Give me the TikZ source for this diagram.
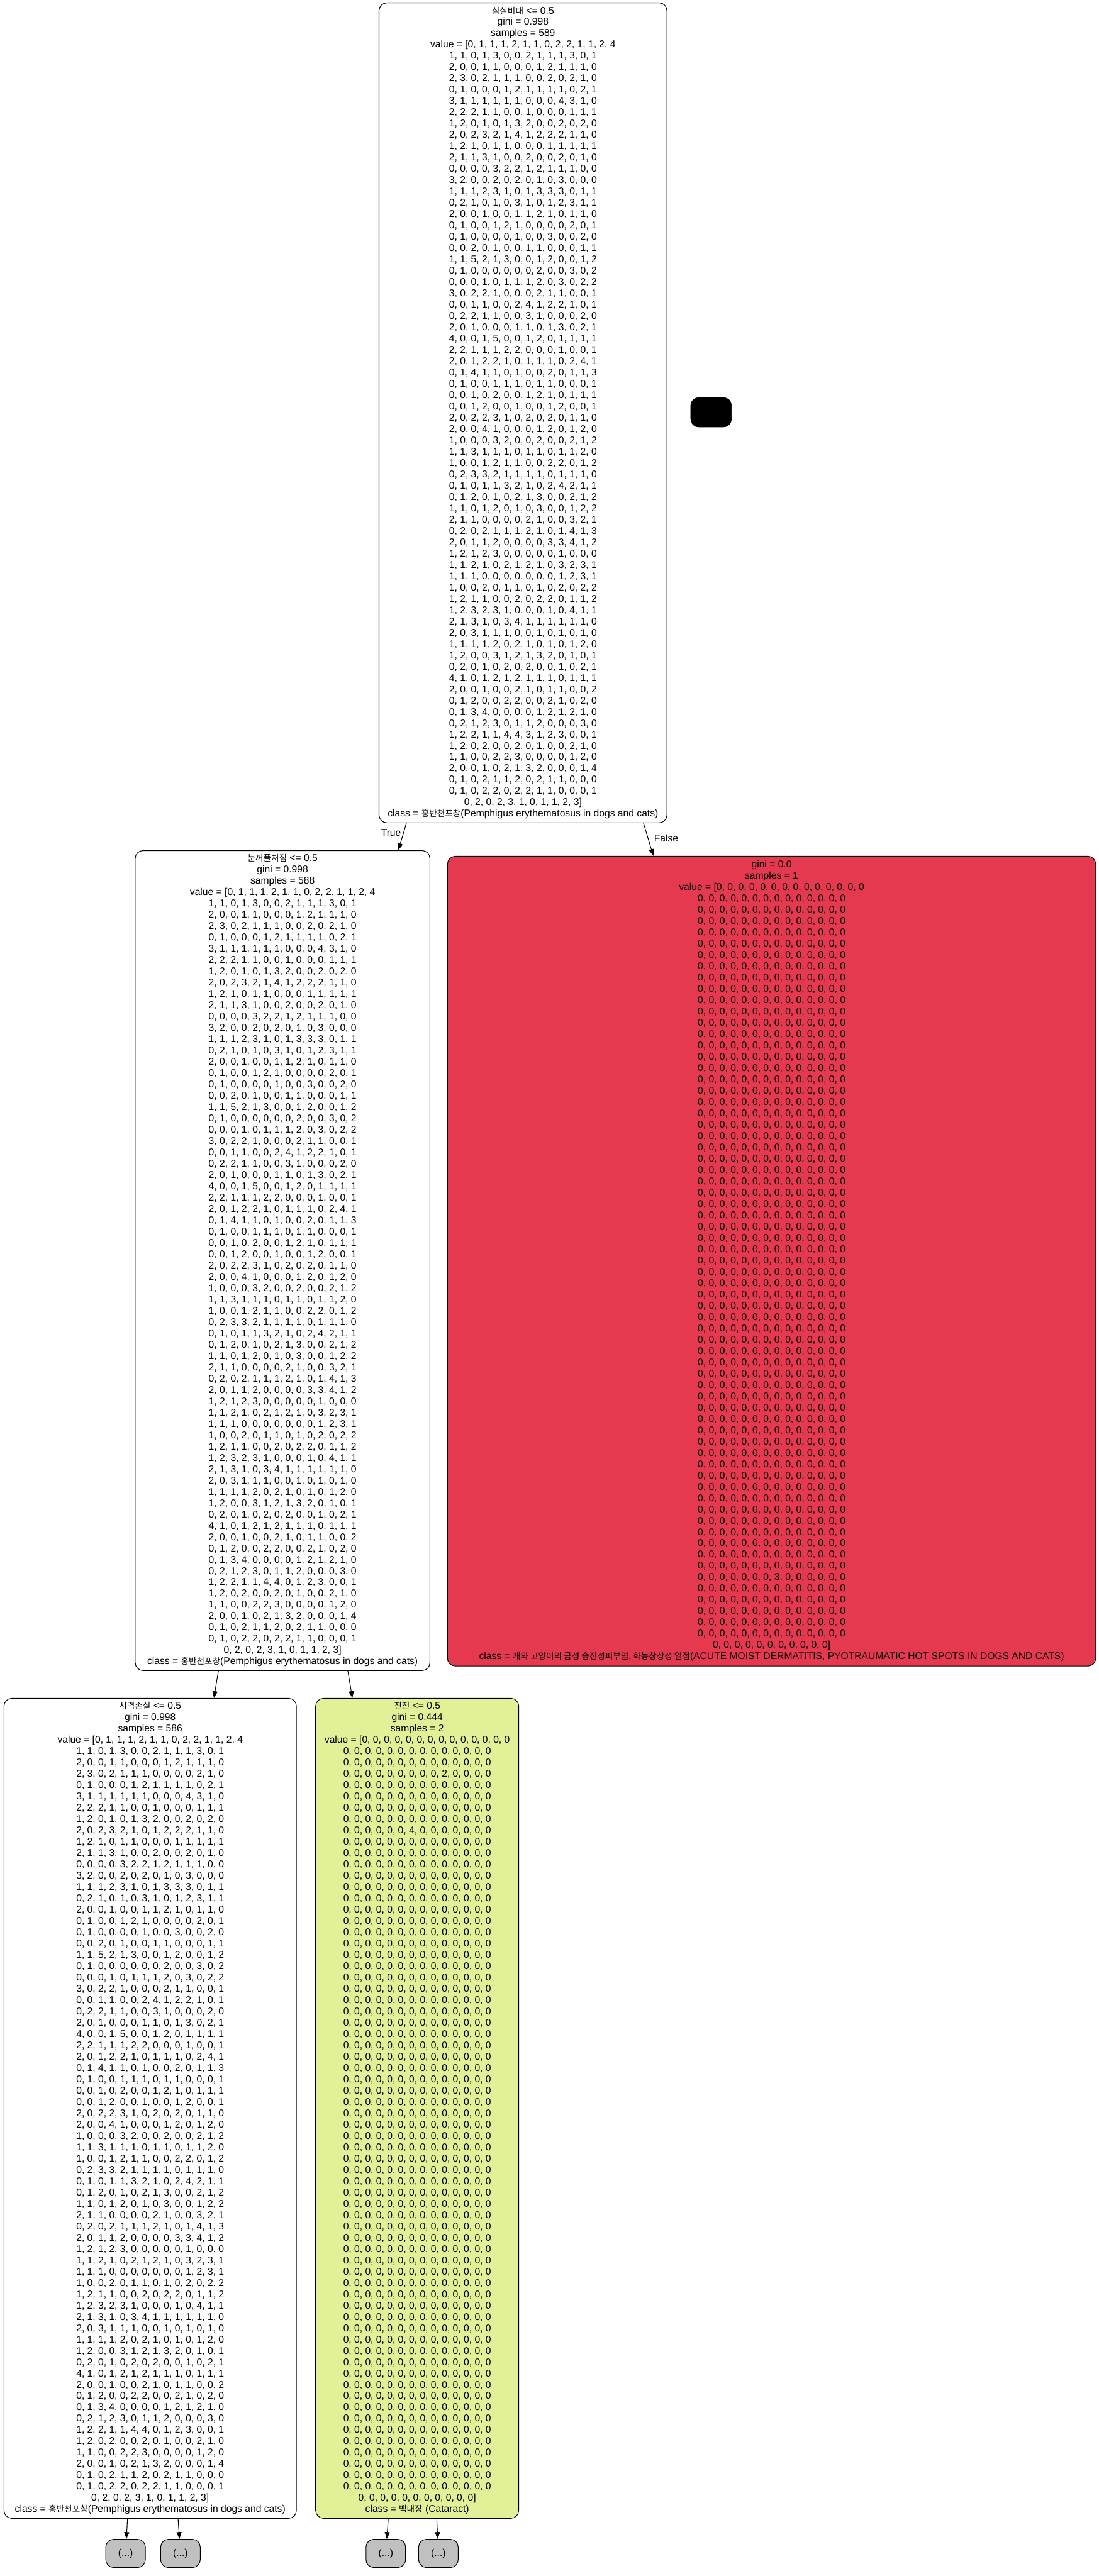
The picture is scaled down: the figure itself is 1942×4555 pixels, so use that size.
\documentclass[tikz,border=0pt]{standalone}
\usepackage{fontspec}
\setmainfont{Liberation Sans}
\newfontfamily\krfont[Scale=0.87]{Noto Sans CJK KR}
\usetikzlibrary{arrows.meta}

\definecolor{leafred}{HTML}{E5394F}
\definecolor{leafgreen}{HTML}{E2F098}
\definecolor{moregray}{HTML}{C0C0C0}

% value rows shared by the three big split nodes
\def\rowsA{1, 1, 0, 1, 3, 0, 0, 2, 1, 1, 1, 3, 0, 1\\
2, 0, 0, 1, 1, 0, 0, 0, 1, 2, 1, 1, 1, 0\\}
\def\rowsB{0, 1, 0, 0, 0, 1, 2, 1, 1, 1, 1, 0, 2, 1\\
3, 1, 1, 1, 1, 1, 1, 0, 0, 0, 4, 3, 1, 0\\
2, 2, 2, 1, 1, 0, 0, 1, 0, 0, 0, 1, 1, 1\\
1, 2, 0, 1, 0, 1, 3, 2, 0, 0, 2, 0, 2, 0\\}
\def\rowsC{1, 2, 1, 0, 1, 1, 0, 0, 0, 1, 1, 1, 1, 1\\
2, 1, 1, 3, 1, 0, 0, 2, 0, 0, 2, 0, 1, 0\\
0, 0, 0, 0, 3, 2, 2, 1, 2, 1, 1, 1, 0, 0\\
3, 2, 0, 0, 2, 0, 2, 0, 1, 0, 3, 0, 0, 0\\
1, 1, 1, 2, 3, 1, 0, 1, 3, 3, 3, 0, 1, 1\\
0, 2, 1, 0, 1, 0, 3, 1, 0, 1, 2, 3, 1, 1\\
2, 0, 0, 1, 0, 0, 1, 1, 2, 1, 0, 1, 1, 0\\
0, 1, 0, 0, 1, 2, 1, 0, 0, 0, 0, 2, 0, 1\\
0, 1, 0, 0, 0, 0, 1, 0, 0, 3, 0, 0, 2, 0\\
0, 0, 2, 0, 1, 0, 0, 1, 1, 0, 0, 0, 1, 1\\
1, 1, 5, 2, 1, 3, 0, 0, 1, 2, 0, 0, 1, 2\\
0, 1, 0, 0, 0, 0, 0, 0, 2, 0, 0, 3, 0, 2\\
0, 0, 0, 1, 0, 1, 1, 1, 2, 0, 3, 0, 2, 2\\
3, 0, 2, 2, 1, 0, 0, 0, 2, 1, 1, 0, 0, 1\\
0, 0, 1, 1, 0, 0, 2, 4, 1, 2, 2, 1, 0, 1\\
0, 2, 2, 1, 1, 0, 0, 3, 1, 0, 0, 0, 2, 0\\
2, 0, 1, 0, 0, 0, 1, 1, 0, 1, 3, 0, 2, 1\\
4, 0, 0, 1, 5, 0, 0, 1, 2, 0, 1, 1, 1, 1\\
2, 2, 1, 1, 1, 2, 2, 0, 0, 0, 1, 0, 0, 1\\
2, 0, 1, 2, 2, 1, 0, 1, 1, 1, 0, 2, 4, 1\\
0, 1, 4, 1, 1, 0, 1, 0, 0, 2, 0, 1, 1, 3\\
0, 1, 0, 0, 1, 1, 1, 0, 1, 1, 0, 0, 0, 1\\
0, 0, 1, 0, 2, 0, 0, 1, 2, 1, 0, 1, 1, 1\\
0, 0, 1, 2, 0, 0, 1, 0, 0, 1, 2, 0, 0, 1\\
2, 0, 2, 2, 3, 1, 0, 2, 0, 2, 0, 1, 1, 0\\
2, 0, 0, 4, 1, 0, 0, 0, 1, 2, 0, 1, 2, 0\\
1, 0, 0, 0, 3, 2, 0, 0, 2, 0, 0, 2, 1, 2\\
1, 1, 3, 1, 1, 1, 0, 1, 1, 0, 1, 1, 2, 0\\
1, 0, 0, 1, 2, 1, 1, 0, 0, 2, 2, 0, 1, 2\\
0, 2, 3, 3, 2, 1, 1, 1, 1, 0, 1, 1, 1, 0\\
0, 1, 0, 1, 1, 3, 2, 1, 0, 2, 4, 2, 1, 1\\
0, 1, 2, 0, 1, 0, 2, 1, 3, 0, 0, 2, 1, 2\\
1, 1, 0, 1, 2, 0, 1, 0, 3, 0, 0, 1, 2, 2\\
2, 1, 1, 0, 0, 0, 0, 2, 1, 0, 0, 3, 2, 1\\
0, 2, 0, 2, 1, 1, 1, 2, 1, 0, 1, 4, 1, 3\\
2, 0, 1, 1, 2, 0, 0, 0, 0, 3, 3, 4, 1, 2\\
1, 2, 1, 2, 3, 0, 0, 0, 0, 0, 1, 0, 0, 0\\
1, 1, 2, 1, 0, 2, 1, 2, 1, 0, 3, 2, 3, 1\\
1, 1, 1, 0, 0, 0, 0, 0, 0, 0, 1, 2, 3, 1\\
1, 0, 0, 2, 0, 1, 1, 0, 1, 0, 2, 0, 2, 2\\
1, 2, 1, 1, 0, 0, 2, 0, 2, 2, 0, 1, 1, 2\\
1, 2, 3, 2, 3, 1, 0, 0, 0, 1, 0, 4, 1, 1\\
2, 1, 3, 1, 0, 3, 4, 1, 1, 1, 1, 1, 1, 0\\
2, 0, 3, 1, 1, 1, 0, 0, 1, 0, 1, 0, 1, 0\\
1, 1, 1, 1, 2, 0, 2, 1, 0, 1, 0, 1, 2, 0\\
1, 2, 0, 0, 3, 1, 2, 1, 3, 2, 0, 1, 0, 1\\
0, 2, 0, 1, 0, 2, 0, 2, 0, 0, 1, 0, 2, 1\\
4, 1, 0, 1, 2, 1, 2, 1, 1, 1, 0, 1, 1, 1\\
2, 0, 0, 1, 0, 0, 2, 1, 0, 1, 1, 0, 0, 2\\
0, 1, 2, 0, 0, 2, 2, 0, 0, 2, 1, 0, 2, 0\\
0, 1, 3, 4, 0, 0, 0, 0, 1, 2, 1, 2, 1, 0\\
0, 2, 1, 2, 3, 0, 1, 1, 2, 0, 0, 0, 3, 0\\}
\def\rowsD{1, 2, 0, 2, 0, 0, 2, 0, 1, 0, 0, 2, 1, 0\\
1, 1, 0, 0, 2, 2, 3, 0, 0, 0, 0, 1, 2, 0\\
2, 0, 0, 1, 0, 2, 1, 3, 2, 0, 0, 0, 1, 4\\
0, 1, 0, 2, 1, 1, 2, 0, 2, 1, 1, 0, 0, 0\\
0, 1, 0, 2, 2, 0, 2, 2, 1, 1, 0, 0, 0, 1\\
0, 2, 0, 2, 3, 1, 0, 1, 1, 2, 3]\\}
% rows of zeros for the pure nodes
\def\zrow{0, 0, 0, 0, 0, 0, 0, 0, 0, 0, 0, 0, 0, 0\\}
\def\zten{\zrow\zrow\zrow\zrow\zrow\zrow\zrow\zrow\zrow\zrow}
\def\pemph{class = {\krfont 홍반천포창}(Pemphigus erythematosus in dogs and cats)}

\begin{document}
\begin{tikzpicture}[
    x=0.5pt, y=-0.5pt,
    every node/.style={font=\fontsize{8.7}{10}\selectfont},
    % white split nodes
    split/.style={draw, rounded corners=7pt, line width=0.6pt, align=center,
                  inner sep=0pt, fill=white, minimum height=725pt},
    % pure leaf, red class
    redleaf/.style={split, fill=leafred, minimum height=716pt},
    % split node leaning to the green class
    greensplit/.style={split, fill=leafgreen},
    % truncated subtrees
    more/.style={draw, rounded corners=7pt, line width=0.6pt, fill=moregray,
                 minimum width=35pt, minimum height=25pt, inner sep=0pt},
    blackbox/.style={draw, rounded corners=7pt, fill=black,
                     minimum width=36pt, minimum height=26pt},
    edge/.style={-{Triangle[length=6pt, width=4.5pt]}, line width=0.6pt},
    elabel/.style={inner sep=0pt}
]
\useasboundingbox (0,0) rectangle (1942,4555);

\node[split, minimum width=254.5pt] (root) at (924.5,730) {%
{\krfont 심실비대} <= 0.5\\gini = 0.998\\samples = 589\\
value = [0, 1, 1, 1, 2, 1, 1, 0, 2, 2, 1, 1, 2, 4\\
\rowsA
2, 3, 0, 2, 1, 1, 1, 0, 0, 2, 0, 2, 1, 0\\
\rowsB
2, 0, 2, 3, 2, 1, 4, 1, 2, 2, 2, 1, 1, 0\\
\rowsC
1, 2, 2, 1, 1, 4, 4, 3, 1, 2, 3, 0, 0, 1\\
\rowsD
\pemph};

\node[blackbox] (dot) at (1257,729) {};

\node[split, minimum width=260.5pt] (eyelid) at (499.5,2229) {%
{\krfont 눈꺼풀처짐} <= 0.5\\gini = 0.998\\samples = 588\\
value = [0, 1, 1, 1, 2, 1, 1, 0, 2, 2, 1, 1, 2, 4\\
\rowsA
2, 3, 0, 2, 1, 1, 1, 0, 0, 2, 0, 2, 1, 0\\
\rowsB
2, 0, 2, 3, 2, 1, 4, 1, 2, 2, 2, 1, 1, 0\\
\rowsC
1, 2, 2, 1, 1, 4, 4, 0, 1, 2, 3, 0, 0, 1\\
\rowsD
\pemph};

\node[redleaf, minimum width=573pt] (hotspot) at (1364,2230) {%
gini = 0.0\\samples = 1\\
value = [0, 0, 0, 0, 0, 0, 0, 0, 0, 0, 0, 0, 0, 0\\
\zten\zten\zten\zten\zten\zten
0, 0, 0, 0, 0, 0, 0, 3, 0, 0, 0, 0, 0, 0\\
\zrow\zrow\zrow\zrow\zrow
0, 0, 0, 0, 0, 0, 0, 0, 0, 0, 0]\\
class = {\krfont 개와 고양이의 급성 습진성피부염, 화농창상성 열점}(ACUTE MOIST DERMATITIS, PYOTRAUMATIC HOT SPOTS IN DOGS AND CATS)};

\node[split, minimum width=258.5pt] (vision) at (265.5,3728) {%
{\krfont 시력손실} <= 0.5\\gini = 0.998\\samples = 586\\
value = [0, 1, 1, 1, 2, 1, 1, 0, 2, 2, 1, 1, 2, 4\\
\rowsA
2, 3, 0, 2, 1, 1, 1, 0, 0, 0, 0, 2, 1, 0\\
\rowsB
2, 0, 2, 3, 2, 1, 0, 1, 2, 2, 2, 1, 1, 0\\
\rowsC
1, 2, 2, 1, 1, 4, 4, 0, 1, 2, 3, 0, 0, 1\\
\rowsD
\pemph};

\node[greensplit, minimum width=179.5pt] (tremor) at (737.5,3728) {%
{\krfont 진전} <= 0.5\\gini = 0.444\\samples = 2\\
value = [0, 0, 0, 0, 0, 0, 0, 0, 0, 0, 0, 0, 0, 0\\
\zrow\zrow
0, 0, 0, 0, 0, 0, 0, 0, 0, 2, 0, 0, 0, 0\\
\zrow\zrow\zrow\zrow
0, 0, 0, 0, 0, 0, 4, 0, 0, 0, 0, 0, 0, 0\\
\zten\zten\zten\zten\zten
\zrow\zrow\zrow\zrow\zrow\zrow\zrow\zrow
0, 0, 0, 0, 0, 0, 0, 0, 0, 0, 0]\\
class = {\krfont 백내장} (Cataract)};

\node[more] (m1) at (222,4515) {(...)};
\node[more] (m2) at (319,4515) {(...)};
\node[more] (m3) at (682,4515) {(...)};
\node[more] (m4) at (775,4515) {(...)};

\draw[edge] (root) -- node[elabel, pos=0.35, left=2pt] {True} (eyelid);
\draw[edge] (root) -- node[elabel, pos=0.47, right=5pt] {False} (hotspot);
\draw[edge] (eyelid) -- (vision);
\draw[edge] (eyelid) -- (tremor);
\draw[edge] (vision) -- (m1);
\draw[edge] (vision) -- (m2);
\draw[edge] (tremor) -- (m3);
\draw[edge] (tremor) -- (m4);

\end{tikzpicture}
\end{document}
